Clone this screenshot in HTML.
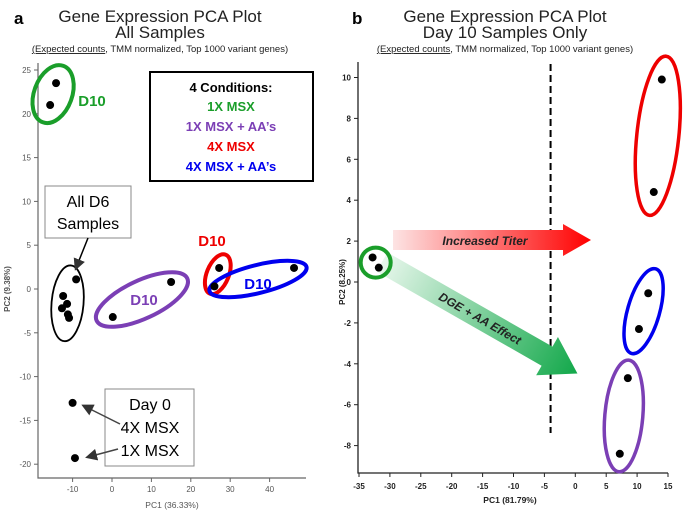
<!DOCTYPE html>
<html><head><meta charset="utf-8"><style>
body{margin:0;background:#fff}
svg{display:block;font-family:"Liberation Sans",sans-serif}
</style></head><body>
<svg id="c" width="685" height="517" viewBox="0 0 685 517">
<defs>
<linearGradient id="gr" x1="0" x2="1" y1="0" y2="0"><stop offset="0" stop-color="#fde4e4"/><stop offset="1" stop-color="#ff0000"/></linearGradient>
<linearGradient id="gg" x1="0" x2="1" y1="0" y2="0"><stop offset="0" stop-color="#e8f7ec"/><stop offset="1" stop-color="#12a84a"/></linearGradient>
<marker id="ah" markerWidth="8" markerHeight="8" refX="6" refY="4" orient="auto"><path d="M0,0 L8,4 L0,8 z" fill="#333"/></marker>
</defs>
<!-- Panel a titles -->
<text x="14" y="24" font-size="17" font-weight="bold">a</text>
<text x="160" y="22" font-size="17" text-anchor="middle" fill="#222">Gene Expression PCA Plot</text>
<text x="160" y="38" font-size="17" text-anchor="middle" fill="#222">All Samples</text>
<text x="160" y="52" font-size="9.5" text-anchor="middle" fill="#222"><tspan text-decoration="underline">(Expected counts</tspan>, TMM normalized, Top 1000 variant genes)</text>
<!-- Panel b titles -->
<text x="352" y="24" font-size="17" font-weight="bold">b</text>
<text x="505" y="22" font-size="17" text-anchor="middle" fill="#222">Gene Expression PCA Plot</text>
<text x="505" y="38" font-size="17" text-anchor="middle" fill="#222">Day 10 Samples Only</text>
<text x="505" y="52" font-size="9.5" text-anchor="middle" fill="#222"><tspan text-decoration="underline">(Expected counts</tspan>, TMM normalized, Top 1000 variant genes)</text>
<g id="A"></g><g id="B"></g>
</svg>
<script>
// Panel A data
const aXTicks=[-10,0,10,20,30,40];
const aYTicks=[25,20,15,10,5,0,-5,-10,-15,-20];
const aGreenX=[-14.2,-15.7], aGreenY=[23.5,21.0];
const aBlackX=[-9.1,-12.4,-11.4,-12.7,-11.2,-10.9], aBlackY=[1.1,-0.8,-1.7,-2.2,-2.9,-3.3];
const aPurpleX=[0.2,15.0], aPurpleY=[-3.2,0.8];
const aRedX=[27.2,26.0], aRedY=[2.4,0.3];
const aBlueX=[46.2], aBlueY=[2.4];
const aDay0X=[-10.0,-9.4], aDay0Y=[-13.0,-19.3];
// Panel B data
const bXTicks=[-35,-30,-25,-20,-15,-10,-5,0,5,10,15];
const bYTicks=[10,8,6,4,2,0,-2,-4,-6,-8];
const bGreenX=[-32.8,-31.8], bGreenY=[1.2,0.7];
const bRedX=[14.0,12.7], bRedY=[9.9,4.4];
const bBlueX=[11.8,10.3], bBlueY=[-0.55,-2.3];
const bPurpleX=[8.5,7.2], bPurpleY=[-4.7,-8.4];

const NS="http://www.w3.org/2000/svg";
function mk(p,t,at,txt){const e=document.createElementNS(NS,t);for(const k in at)e.setAttribute(k,at[k]);if(txt!==undefined)e.textContent=txt;p.appendChild(e);return e;}
const ax=v=>112+v*3.94, ay=v=>289-v*8.76;
const bx=v=>359+(v+35)*6.18, by=v=>282-v*20.45;
const A=document.getElementById('A'), B=document.getElementById('B');

// axes A
let e=mk(A,'path',{d:`M38,63 V478 H306`,stroke:'#666',fill:'none','stroke-width':1.2});


aYTicks.forEach(t=>{const y=ay(t);mk(A,'line',{x1:34,x2:38,y1:y,y2:y,stroke:'#666'});
 e=mk(A,'text',{x:31,y:y+3,'font-size':8,'text-anchor':'end',fill:'#555'},t);
 
 });
aXTicks.forEach(t=>{const x=ax(t);mk(A,'line',{x1:x,x2:x,y1:478,y2:482,stroke:'#666'});
 e=mk(A,'text',{x:x,y:492,'font-size':8,'text-anchor':'middle',fill:'#555'},t);
 
 });
e=mk(A,'text',{x:172,y:508,'font-size':8.5,'text-anchor':'middle',fill:'#555'},'PC1 (36.33%)');


e=mk(A,'text',{x:0,y:0,'font-size':8,'font-weight':'bold','text-anchor':'middle',fill:'#555',transform:'translate(10,289) rotate(-90)'},'PC2 (9.38%)');



function ell(p,cx,cy,rx,ry,rot,col,w,name){const el=mk(p,'ellipse',{cx,cy,rx,ry,fill:'none',stroke:col,'stroke-width':w,transform:`rotate(${rot} ${cx} ${cy})`});
 
 }
function mean(a){return a.reduce((s,v)=>s+v,0)/a.length;}
ell(A,ax(mean(aGreenX)),ay(mean(aGreenY)),19,30,20,'#1a9e2a',4,'a-green-ellipse');
ell(A,ax(mean(aBlackX)),ay(mean(aBlackY)),16,38,5,'#000',1.8,'a-d6-ellipse');
ell(A,ax(mean(aPurpleX)),ay(mean(aPurpleY)),50,19,-25,'#7b3fb5',4,'a-purple-ellipse');
ell(A,ax(mean(aRedX))+1,ay(mean(aRedY))-3,11,21,22,'#ee0000',4,'a-red-ellipse');
ell(A,258,279,50,14,-14,'#0000ee',4,'a-blue-ellipse');

function pts(p,X,Y,fx,fy,name,r){X.forEach((v,i)=>{const c=mk(p,'circle',{cx:fx(v),cy:fy(Y[i]),r:r,fill:'#000'});
 
 });}
pts(A,aGreenX,aGreenY,ax,ay,'a-point-d10-1x',4);
pts(A,aBlackX,aBlackY,ax,ay,'a-point-d6',4);
pts(A,aPurpleX,aPurpleY,ax,ay,'a-point-d10-1x-aa',4);
pts(A,aRedX,aRedY,ax,ay,'a-point-d10-4x',4);
pts(A,aBlueX,aBlueY,ax,ay,'a-point-d10-4x-aa',4);
pts(A,aDay0X,aDay0Y,ax,ay,'a-point-day0',4);

// annotations A
function T(p,x,y,s,txt,col,bold,name,anchor){const t=mk(p,'text',{x,y,'font-size':s,fill:col,'font-weight':bold?'bold':'normal','text-anchor':anchor||'middle'},txt);
 
 return t;}
T(A,92,106,15,'D10','#1a9e2a',1,'a-green-label');
e=mk(A,'rect',{x:150,y:72,width:163,height:109,fill:'#fff',stroke:'#000','stroke-width':2});


T(A,231,92,13,'4 Conditions:','#000',1,'legend-title');
T(A,231,111,13,'1X MSX','#1a9e2a',1,'legend-entry-1x');
T(A,231,131,13,'1X MSX + AA\u2019s','#7b3fb5',1,'legend-entry-1x-aa');
T(A,231,151,13,'4X MSX','#ee0000',1,'legend-entry-4x');
T(A,231,171,13,'4X MSX + AA\u2019s','#0000ee',1,'legend-entry-4x-aa');
e=mk(A,'rect',{x:45,y:186,width:86,height:52,fill:'#fff',stroke:'#888'});


T(A,88,207,16,'All D6','#000',0,'d6-annotation-line1');
T(A,88,229,16,'Samples','#000',0,'d6-annotation-line2');
mk(A,'line',{x1:88,y1:238,x2:76,y2:268,stroke:'#000','stroke-width':1.5,'marker-end':'url(#ah)'});
T(A,144,305,15,'D10','#7b3fb5',1,'a-purple-label');
T(A,212,246,15,'D10','#ee0000',1,'a-red-label');
T(A,258,289,15,'D10','#0000ee',1,'a-blue-label');
e=mk(A,'rect',{x:105,y:389,width:89,height:77,fill:'#fff',stroke:'#888'});


T(A,150,410,16,'Day 0','#000',0,'day0-line1');
T(A,150,433,16,'4X MSX','#000',0,'day0-line2');
T(A,150,456,16,'1X MSX','#000',0,'day0-line3');
mk(A,'line',{x1:120,y1:424,x2:84,y2:406,stroke:'#444','stroke-width':1.5,'marker-end':'url(#ah)'});
mk(A,'line',{x1:118,y1:449,x2:88,y2:457,stroke:'#444','stroke-width':1.5,'marker-end':'url(#ah)'});

// axes B
e=mk(B,'path',{d:`M358,62 V473 H668`,stroke:'#222',fill:'none','stroke-width':1.3});


bYTicks.forEach(t=>{const y=by(t);mk(B,'line',{x1:354,x2:358,y1:y,y2:y,stroke:'#222'});
 e=mk(B,'text',{x:351,y:y+3,'font-size':8,'font-weight':'bold','text-anchor':'end',fill:'#222'},t);
 
 });
bXTicks.forEach(t=>{const x=bx(t);mk(B,'line',{x1:x,x2:x,y1:473,y2:477,stroke:'#222'});
 e=mk(B,'text',{x:x,y:489,'font-size':8,'font-weight':'bold','text-anchor':'middle',fill:'#222'},t);
 
 });
e=mk(B,'text',{x:510,y:503,'font-size':8.5,'font-weight':'bold','text-anchor':'middle',fill:'#222'},'PC1 (81.79%)');


e=mk(B,'text',{x:0,y:0,'font-size':8,'font-weight':'bold','text-anchor':'middle',fill:'#222',transform:'translate(345,282) rotate(-90)'},'PC2 (8.25%)');


e=mk(B,'line',{x1:bx(-4),x2:bx(-4),y1:64,y2:433,stroke:'#000','stroke-width':2,'stroke-dasharray':'7,4'});



// arrows B
e=mk(B,'path',{d:'M393,230 H563 V224 L591,240 L563,256 V250 H393 Z',fill:'url(#gr)'});


T(B,485,245,12,'Increased Titer','#222',1,'increased-titer-label').setAttribute('font-style','italic');
e=mk(B,'path',{d:'M0,-11 H190 V-22 L225,0 L190,22 V11 H0 Z',fill:'url(#gg)',transform:'translate(382,262) rotate(29.7)'});


let t2=T(B,0,0,12,'DGE + AA Effect','#222',1,'dge-aa-effect-label');
t2.setAttribute('font-style','italic');
t2.setAttribute('transform','translate(478,322) rotate(29.7)');

ell(B,bx(mean(bGreenX)),by(mean(bGreenY)),15,15,0,'#1a9e2a',4,'b-green-ellipse');
ell(B,bx(mean(bRedX)),by(mean(bRedY)),21,80,6,'#ee0000',3.5,'b-red-ellipse');
ell(B,bx(mean(bBlueX)),by(mean(bBlueY)),16,44,16,'#0000ee',3.5,'b-blue-ellipse');
ell(B,bx(mean(bPurpleX)),by(mean(bPurpleY)),19,56,5,'#7b3fb5',3.5,'b-purple-ellipse');
pts(B,bGreenX,bGreenY,bx,by,'b-point-1x',4);
pts(B,bRedX,bRedY,bx,by,'b-point-4x',4);
pts(B,bBlueX,bBlueY,bx,by,'b-point-4x-aa',4);
pts(B,bPurpleX,bPurpleY,bx,by,'b-point-1x-aa',4);
</script>
</body></html>
